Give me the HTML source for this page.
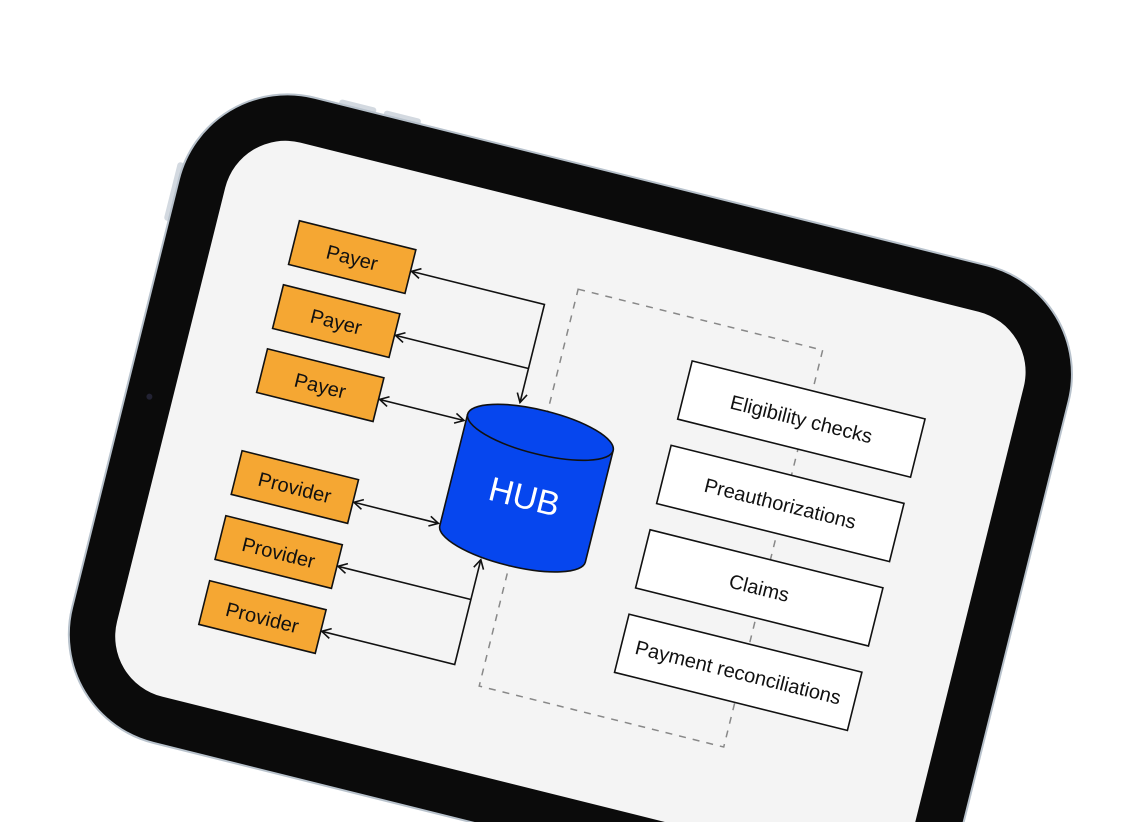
<!DOCTYPE html>
<html><head><meta charset="utf-8"><style>
html,body{margin:0;padding:0;background:#fff;overflow:hidden;}
svg{display:block;}
text{font-family:"Liberation Sans",Arial,sans-serif;fill:#111;}
</style></head><body>
<svg width="1141" height="822" viewBox="0 0 1141 822" xmlns="http://www.w3.org/2000/svg">
<defs>
<marker id="ah" markerWidth="12" markerHeight="12" refX="10" refY="6" orient="auto-start-reverse" markerUnits="userSpaceOnUse">
<path d="M1,1 L10,6 L1,11" fill="none" stroke="#111" stroke-width="1.6"/>
</marker>
</defs>
<g transform="rotate(14 570 450)">
  <rect x="262" y="165" width="38" height="7" rx="3" fill="#d3d9e0"/>
  <rect x="308" y="165" width="38" height="7" rx="3" fill="#d3d9e0"/>
  <rect x="120" y="265" width="7" height="60" rx="3" fill="#d3d9e0"/>
  <rect x="125" y="170" width="917" height="665" rx="112" fill="#0b0b0b" stroke="#b8c2cc" stroke-width="2"/>
  <rect x="172" y="217" width="823" height="571" rx="62" fill="#f4f4f4"/>
  <circle cx="149" cy="500" r="3" fill="#223"/>

  <rect x="539" y="292" width="252" height="409" fill="none" stroke="#888" stroke-width="1.5" stroke-dasharray="7,7"/>

  <g stroke="#111" stroke-width="1.6" fill="none">
    <polyline points="510,416 510,315 373,315" marker-end="url(#ah)" marker-start="url(#ah)"/>
    <polyline points="510,381 373,381" marker-end="url(#ah)"/>
    <line x1="373" y1="447" x2="460" y2="447" marker-start="url(#ah)" marker-end="url(#ah)"/>
    <line x1="373" y1="553" x2="460" y2="553" marker-start="url(#ah)" marker-end="url(#ah)"/>
    <polyline points="510,578 510,686 373,686" marker-start="url(#ah)" marker-end="url(#ah)"/>
    <polyline points="510,619 373,619" marker-end="url(#ah)"/>
  </g>

  <g fill="#f5a733" stroke="#111" stroke-width="1.6">
    <rect x="252" y="293" width="120" height="45"/>
    <rect x="252" y="359" width="120" height="45"/>
    <rect x="252" y="425" width="120" height="45"/>
    <rect x="252" y="530" width="120" height="45"/>
    <rect x="252" y="597" width="120" height="45"/>
    <rect x="252" y="664" width="120" height="45"/>
  </g>
  <g font-size="20" text-anchor="middle">
    <text x="312" y="323">Payer</text>
    <text x="312" y="389">Payer</text>
    <text x="312" y="455">Payer</text>
    <text x="312" y="560">Provider</text>
    <text x="312" y="627">Provider</text>
    <text x="312" y="694">Provider</text>
  </g>

  <path d="M462,440 L462,555 A75,22 0 0 0 612,555 L612,440" fill="#0646ee" stroke="#111" stroke-width="1.6"/>
  <ellipse cx="537" cy="440" rx="75" ry="22" fill="#0646ee" stroke="#111" stroke-width="1.6"/>
  <text x="537" y="518" font-size="34" text-anchor="middle" style="fill:#fff">HUB</text>

  <g fill="#fff" stroke="#111" stroke-width="1.6">
    <rect x="667" y="334" width="240" height="60"/>
    <rect x="667" y="421" width="240" height="60"/>
    <rect x="667" y="508" width="240" height="60"/>
    <rect x="667" y="595" width="240" height="60"/>
  </g>
  <g font-size="20" text-anchor="middle">
    <text x="787" y="371">Eligibility checks</text>
    <text x="787" y="458">Preauthorizations</text>
    <text x="787" y="545">Claims</text>
    <text x="787" y="632">Payment reconciliations</text>
  </g>
</g>
</svg>
</body></html>
